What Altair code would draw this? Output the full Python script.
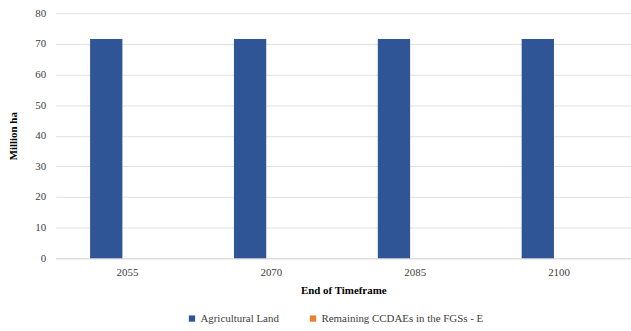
import altair as alt
import pandas as pd

# Timeframe end years and land areas (million ha) per series
years = ["2055", "2070", "2085", "2100"]
agricultural_land = [71.6, 71.6, 71.6, 71.6]
remaining_ccdaes = [0, 0, 0, 0]
series_names = ["Agricultural Land", "Remaining CCDAEs in the FGSs - E"]
series_colors = ["#2F5597", "#ED7D31"]

rows = []
for i, y in enumerate(years):
    rows.append({"year": y, "series": series_names[0], "value": agricultural_land[i]})
    rows.append({"year": y, "series": series_names[1], "value": remaining_ccdaes[i]})
df = pd.DataFrame(rows)

font = "Liberation Serif, Times New Roman, serif"

chart = (
    alt.Chart(df)
    .mark_bar()
    .encode(
        x=alt.X(
            "year:N",
            title="End of Timeframe",
            sort=years,
            scale=alt.Scale(paddingInner=0.48, paddingOuter=0.24),
            axis=alt.Axis(
                labelAngle=0,
                ticks=False,
                domainColor="#d9d9d9",
                labelPadding=8,
                titlePadding=8,
            ),
        ),
        xOffset=alt.XOffset(
            "series:N",
            sort=series_names,
            scale=alt.Scale(paddingInner=0.24, paddingOuter=0),
        ),
        y=alt.Y(
            "value:Q",
            title="Million ha",
            scale=alt.Scale(domain=[0, 80]),
            axis=alt.Axis(
                values=list(range(0, 81, 10)),
                ticks=False,
                domain=False,
                gridColor="#e0e0e0",
                labelPadding=10,
                titlePadding=16,
            ),
        ),
        color=alt.Color(
            "series:N",
            sort=series_names,
            scale=alt.Scale(domain=series_names, range=series_colors),
            legend=alt.Legend(
                title=None,
                orient="none",
                direction="horizontal",
                legendX=132,
                legendY=302,
                symbolType="square",
                symbolSize=40,
                columnPadding=28,
                labelOffset=3,
                labelLimit=0,
            ),
        ),
    )
    .properties(
        width=580,
        height=247,
        autosize=alt.AutoSizeParams(type="none"),
        padding={"left": 56, "top": 12, "right": 0, "bottom": 72},
    )
    .configure_view(stroke=None)
    .configure_axis(
        labelFont=font,
        titleFont=font,
        labelFontSize=11,
        titleFontSize=11,
        labelColor="#404040",
        titleColor="#000000",
        titleFontWeight="bold",
    )
    .configure_legend(
        labelFont=font,
        labelFontSize=11,
        labelColor="#404040",
    )
)

chart.save("out.html", embed_options={"renderer": "svg", "actions": False})
